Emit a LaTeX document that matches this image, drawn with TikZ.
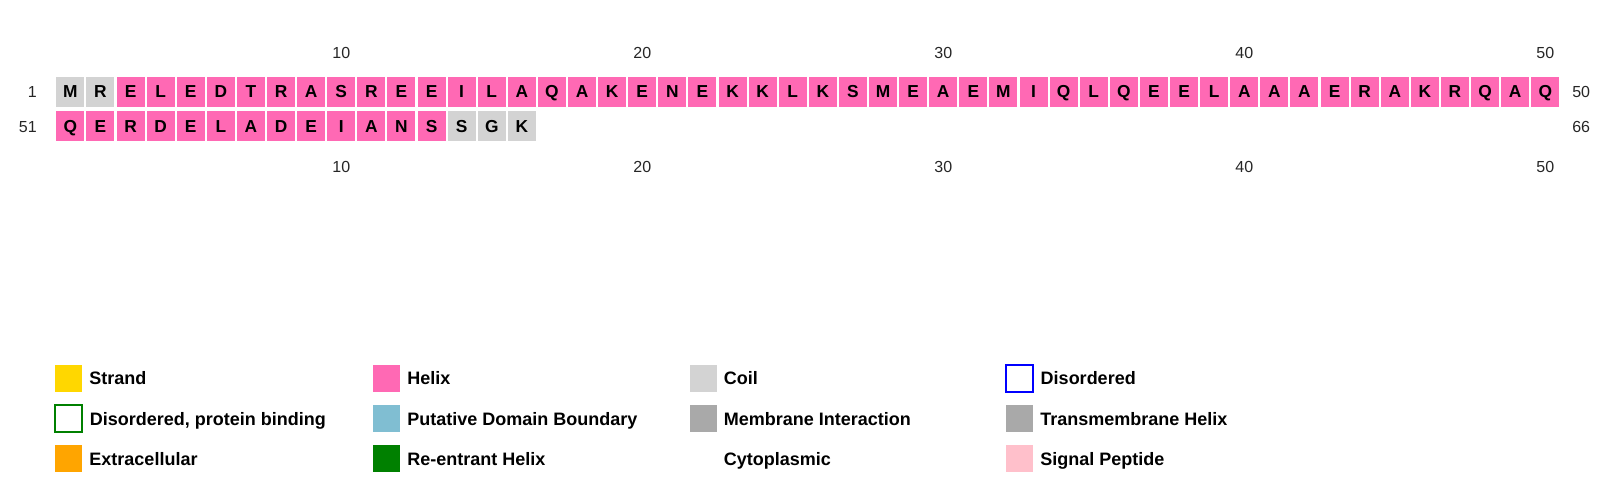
\documentclass[tikz,border=0pt]{standalone}
\usepackage{fontspec}
\setmainfont{Liberation Sans}
\usepackage{tikz}
\usetikzlibrary{positioning}
\usepackage{xcolor}
\definecolor{coilcolor}{RGB}{211, 211, 211}
\definecolor{helixcolor}{RGB}{255, 105, 180}
\definecolor{strandcolor}{RGB}{255, 215, 0}
\definecolor{domaincolor}{RGB}{128, 190, 210}
\definecolor{membranecolor}{RGB}{169, 169, 169}
\definecolor{extracolor}{RGB}{255, 165, 0}
\definecolor{reentrantcolor}{RGB}{0, 128, 0}
\definecolor{signalcolor}{RGB}{255, 192, 203}

\begin{document}
\begin{tikzpicture}[x=0.75pt, y=-0.75pt,
  res/.style={minimum width=21pt, minimum height=22.5pt, inner sep=0pt,
    text height=9.3pt, text depth=0pt, font=\fontsize{13}{15}\selectfont\bfseries},
  numlabel/.style={inner sep=0pt, text height=8.6pt, text depth=0pt,
    font=\fontsize{12}{14}\selectfont, black!85},
  keybox/.style={minimum size=20.25pt, inner sep=0pt},
  keytext/.style={inner sep=0pt, text height=9.6pt, text depth=0pt,
    font=\fontsize{13.5}{15}\selectfont\bfseries}]

  \useasboundingbox (0,0) rectangle (1597,476);

  % ---------- Row 1: residues 1-50 ----------
  \foreach \aa [count=\i] in {M,R,E,L,E,D,T,R,A,S,R,E,E,I,L,A,Q,A,K,E,
      N,E,K,K,L,K,S,M,E,A,E,M,I,Q,L,Q,E,E,L,A,A,A,E,R,A,K,R,Q,A,Q} {
    \ifnum\i<3 \def\col{coilcolor}\else \def\col{helixcolor}\fi
    \node[res, fill=\col] (a\i) at ({40.25+30.1*\i}, 91.7) {\aa};
  }

  % ---------- Row 2: residues 51-66 ----------
  \foreach \aa [count=\i] in {Q,E,R,D,E,L,A,D,E,I,A,N,S,S,G,K} {
    \ifnum\i<14 \def\col{helixcolor}\else \def\col{coilcolor}\fi
    \node[res, fill=\col] (b\i) at ({40.25+30.1*\i}, 126.4) {\aa};
  }

  % ---------- Numbering ----------
  \node[numlabel, anchor=east] (start1) at (37, 91.7) {1};
  \node[numlabel, anchor=east] (start2) at (37, 126.4) {51};
  \node[numlabel, anchor=west] (end1) at (1572, 91.7) {50};
  \node[numlabel, anchor=west] (end2) at (1572, 126.4) {66};
  \foreach \t in {10,20,30,40,50} {
    \node[numlabel] (top\t) at ({40.25+30.1*\t}, 53) {\t};
    \node[numlabel] (bot\t) at ({40.25+30.1*\t}, 166.7) {\t};
  }

  % ---------- Legend ----------
  \foreach \key/\kx/\ky/\kstyle [count=\k] in {
      Strand/68.5/378.3/{fill=strandcolor},
      {Disordered, protein binding}/68.5/418.6/{fill=white, draw=reentrantcolor, line width=1.1pt},
      Extracellular/68.5/458.9/{fill=extracolor},
      Helix/386.3/378.3/{fill=helixcolor},
      Putative Domain Boundary/386.3/418.6/{fill=domaincolor},
      Re-entrant Helix/386.3/458.9/{fill=reentrantcolor},
      Coil/703/378.3/{fill=coilcolor},
      Membrane Interaction/703/418.6/{fill=membranecolor},
      Cytoplasmic/703/458.9/{fill=white},
      Disordered/1019.3/378.3/{fill=white, draw=blue, line width=1.1pt},
      Transmembrane Helix/1019.3/418.6/{fill=membranecolor},
      Signal Peptide/1019.3/458.9/{fill=signalcolor}} {
    \tikzset{keyfill/.style/.expand once=\kstyle}
    \node[keybox, keyfill] (box\k) at (\kx, \ky) {};
    \node[keytext, right=5.2pt of box\k] (txt\k) {\key};
  }

\end{tikzpicture}
\end{document}
